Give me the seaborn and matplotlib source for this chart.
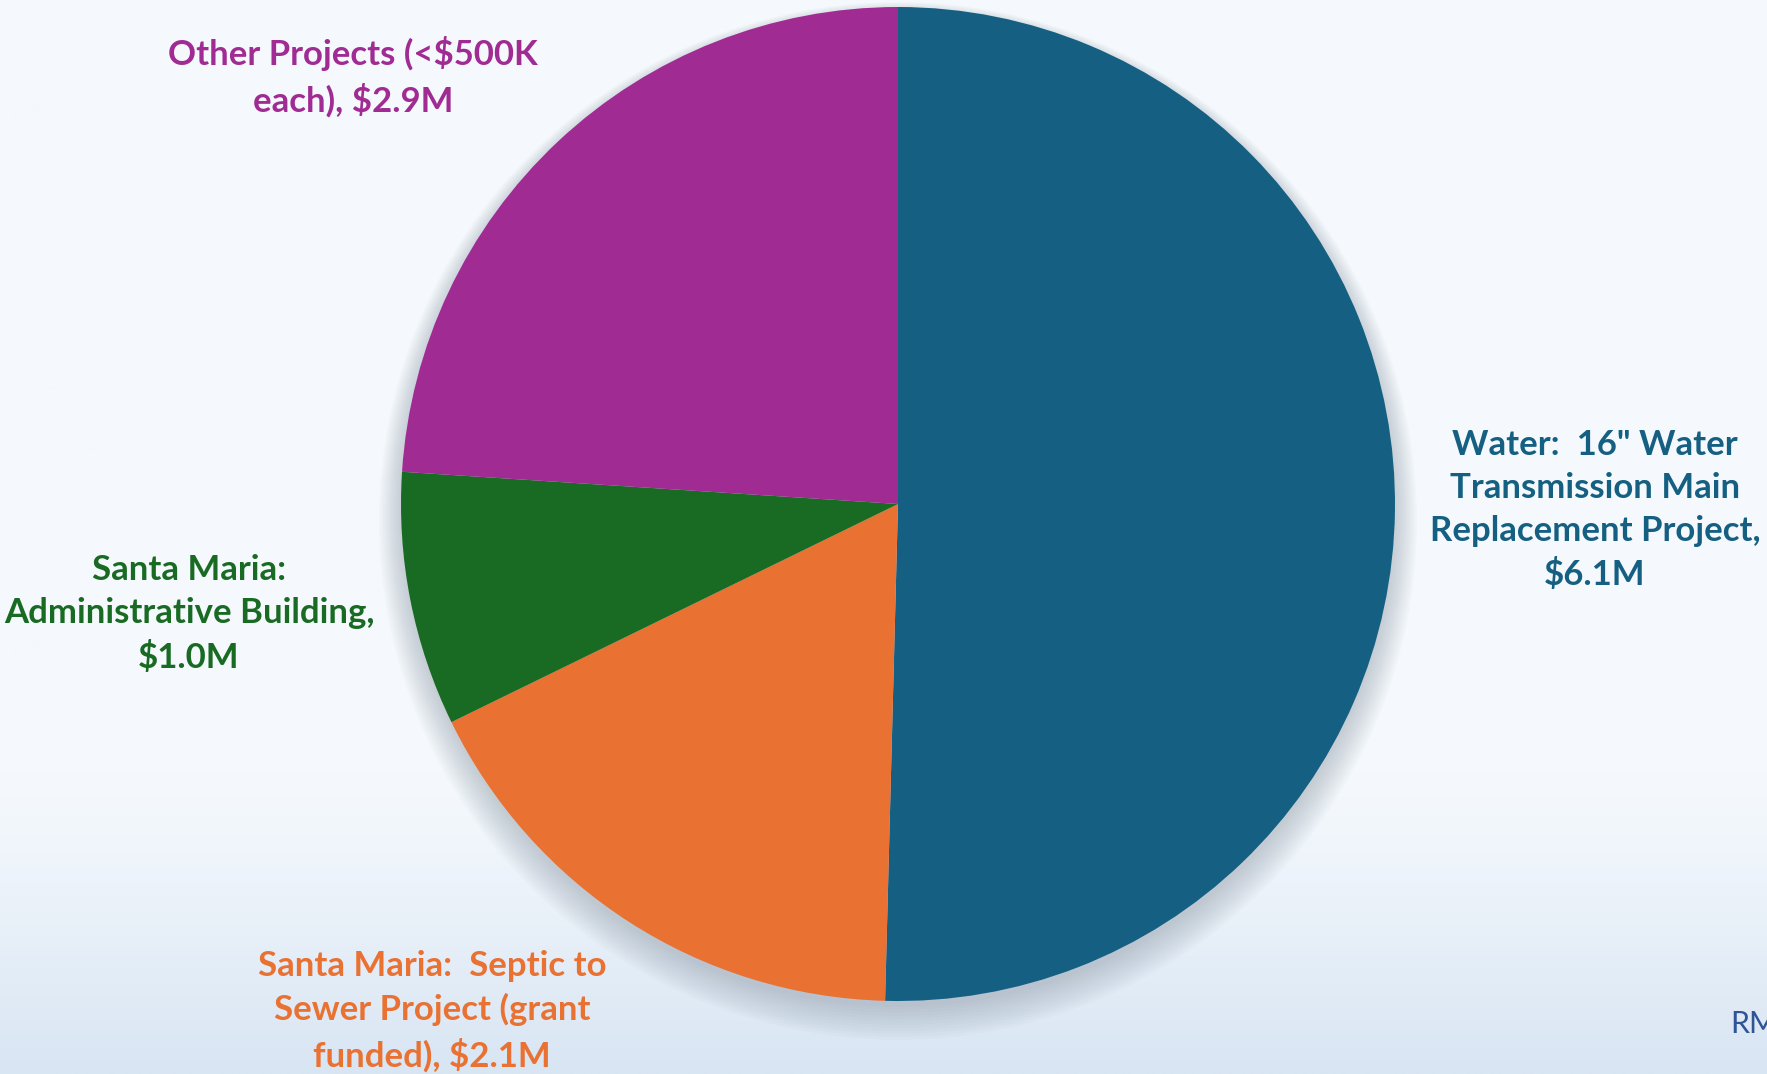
import numpy as np
import matplotlib
matplotlib.use("Agg")
import matplotlib.pyplot as plt
import matplotlib.colors as mcolors
from matplotlib.patches import Circle
import seaborn as sns

# Data
categories = [
    "Water:  16\" Water\nTransmission Main\nReplacement Project,\n$6.1M",
    "Santa Maria:  Septic to\nSewer Project (grant\nfunded), $2.1M",
    "Santa Maria:\nAdministrative Building,\n$1.0M",
    "Other Projects (<$500K\neach), $2.9M",
]
values = [6.1, 2.1, 1.0, 2.9]
colors = ["#156082", "#E97132", "#196B24", "#A02B93"]

sns.set_theme(style="white")
plt.rcParams["font.family"] = ["Lato", "DejaVu Sans"]

W, H = 1767, 1074
fig = plt.figure(figsize=(W / 100, H / 100), dpi=100)

# background gradient
bg = fig.add_axes([0, 0, 1, 1], zorder=0)
bg.set_axis_off()
top = np.array(mcolors.to_rgb("#F5F9FD"))
bot = np.array(mcolors.to_rgb("#D8E5F3"))
ys = np.linspace(0, 1, 400)
t = np.clip((ys - 0.72) / 0.28, 0, 1) ** 1.2
grad = top[None, :] * (1 - t[:, None]) + bot[None, :] * t[:, None]
img = np.repeat(grad[:, None, :], 2, axis=1)
bg.imshow(img, aspect="auto", extent=[0, 1, 1, 0])
bg.set_xlim(0, 1)
bg.set_ylim(1, 0)

cx, cy, r = 898, 504, 497
ax = fig.add_axes([(cx - r) / W, (H - cy - r) / H, 2 * r / W, 2 * r / H], zorder=1)
ax.set_xlim(-1, 1)
ax.set_ylim(-1, 1)
ax.set_aspect("equal")
ax.set_axis_off()

# soft shadow
for i in range(12):
    ax.add_patch(Circle((0.0, -0.012 - 0.002 * i), 1.0 + 0.004 * i,
                        color="#7a8796", alpha=0.035, lw=0, zorder=0, clip_on=False))

ax.pie(values, colors=colors, startangle=90, counterclock=False, radius=1.0,
       wedgeprops=dict(linewidth=0), center=(0, 0))
ax.set_xlim(-1, 1)
ax.set_ylim(-1, 1)

label_pos = [(1595, 510), (432, 1011), (189, 614), (353, 77)]
for lab, col, (px, py) in zip(categories, colors, label_pos):
    fig.text(px / W, 1 - py / H, lab, ha="center", va="center", color=col,
             fontsize=25, fontweight="bold", linespacing=1.42, zorder=3)

fig.text(1730 / W, 1 - 1024 / H, "RM", ha="left", va="center", color="#2F5597",
         fontsize=22, zorder=3)

fig.savefig("out.png", dpi=100)
